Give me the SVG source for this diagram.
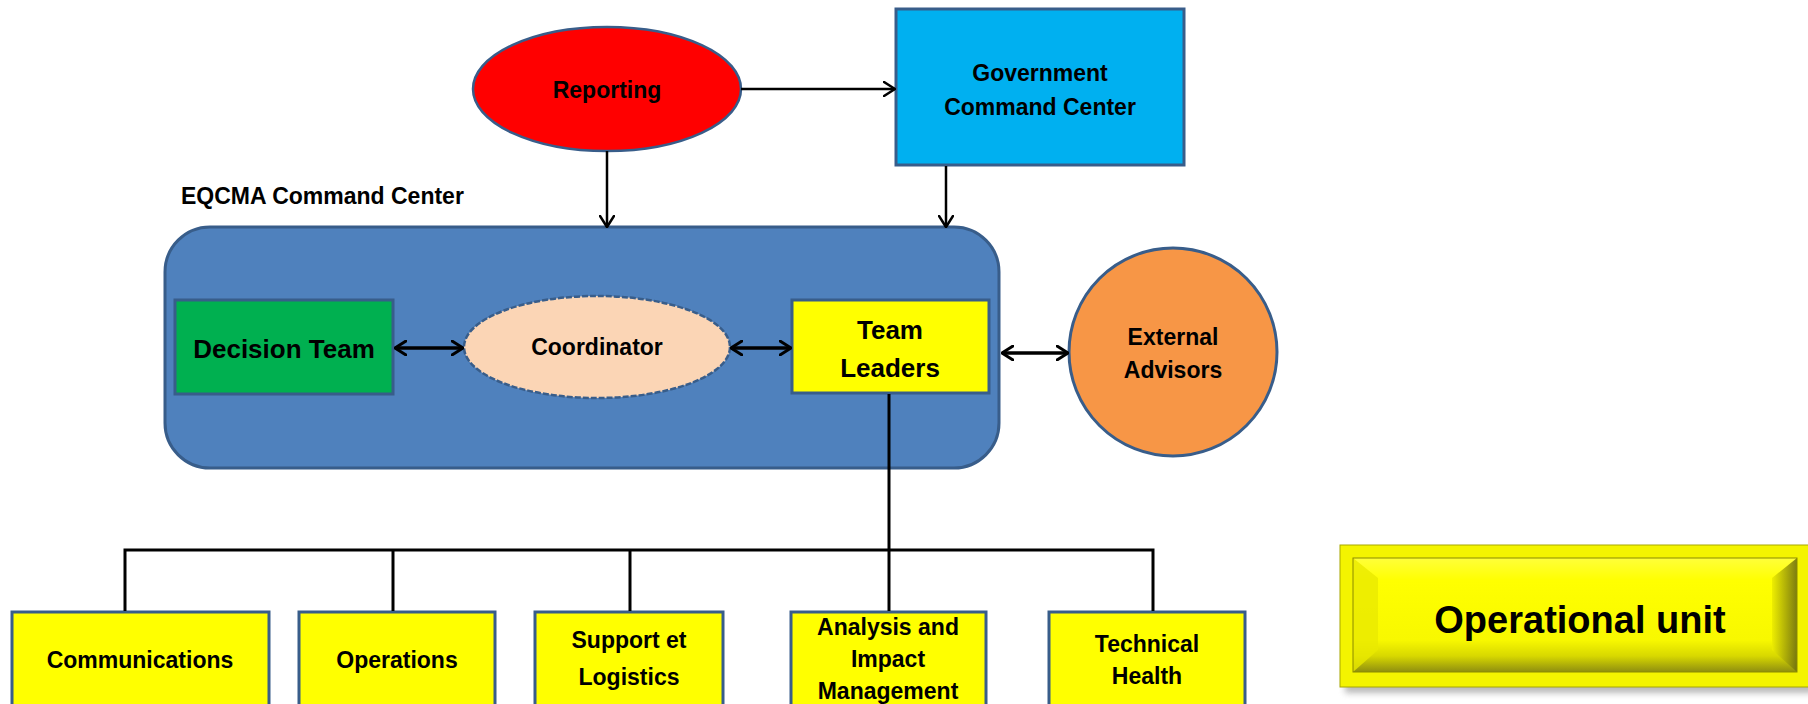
<svg xmlns="http://www.w3.org/2000/svg" width="1808" height="704" viewBox="0 0 1808 704">
  <style>
    text { font-family: "Liberation Sans", Arial, sans-serif; font-weight: bold; fill: #000; text-anchor: middle; }
    .t23 { font-size: 23px; }
    .t26 { font-size: 26px; }
    .shape { stroke: #385D8A; stroke-width: 3; }
    .line { stroke: #000; stroke-width: 3; fill: none; }
    .arrow { stroke: #000; stroke-width: 2.5; fill: none; marker-end: url(#chev); }
    .darrow { stroke: #000; stroke-width: 3.5; fill: none; marker-start: url(#chevS); marker-end: url(#chevS); }
  </style>
  <defs>
    <marker id="chev" viewBox="0 0 13 16" refX="12" refY="8" markerWidth="13" markerHeight="16" markerUnits="userSpaceOnUse" orient="auto-start-reverse">
      <path d="M1,1 L12,8 L1,15" fill="none" stroke="#000" stroke-width="2.5" stroke-linecap="round" stroke-linejoin="round"/>
    </marker>
    <marker id="chevS" viewBox="0 0 13 16" refX="12" refY="8" markerWidth="13" markerHeight="16" markerUnits="userSpaceOnUse" orient="auto-start-reverse">
      <path d="M1,1 L12,8 L1,15" fill="none" stroke="#000" stroke-width="3" stroke-linecap="round" stroke-linejoin="round"/>
    </marker>
    <linearGradient id="bevelFace" x1="0" y1="0" x2="0" y2="1">
      <stop offset="0" stop-color="#FFFF3A"/>
      <stop offset="0.2" stop-color="#FFFF00"/>
      <stop offset="0.72" stop-color="#F8F800"/>
      <stop offset="0.86" stop-color="#D8D800"/>
      <stop offset="1" stop-color="#8E8E10"/>
    </linearGradient>
    <linearGradient id="bevelRight" x1="0" y1="0" x2="1" y2="0">
      <stop offset="0" stop-color="#EDED00"/>
      <stop offset="1" stop-color="#6E6E10"/>
    </linearGradient>
    <filter id="shadow" x="-5%" y="-10%" width="115%" height="130%">
      <feGaussianBlur stdDeviation="3"/>
    </filter>
  </defs>

  <!-- container label -->
  <text id="label-eqcma" class="t23" x="181" y="204" style="text-anchor:start">EQCMA Command Center</text>

  <!-- EQCMA container -->
  <g id="eqcma-center">
    <rect x="165" y="227" width="834" height="241" rx="45" ry="45" fill="#4F81BD" class="shape"/>
  </g>

  <g id="reporting">
    <ellipse cx="607" cy="89" rx="134" ry="62" fill="#FF0000" stroke="#385D8A" stroke-width="2.5"/>
    <text class="t23" x="607" y="98">Reporting</text>
  </g>

  <g id="government">
    <rect x="896" y="9" width="288" height="156" fill="#00B0F0" class="shape"/>
    <text class="t23" x="1040" y="81">Government</text>
    <text class="t23" x="1040" y="115">Command Center</text>
  </g>

  <g id="decision-team">
    <rect x="175" y="300" width="218" height="94" fill="#00B050" class="shape"/>
    <text class="t26" x="284" y="358">Decision Team</text>
  </g>

  <g id="coordinator">
    <ellipse cx="597" cy="347" rx="133" ry="51" fill="#FBD5B5" stroke="#385D8A" stroke-width="2.5" stroke-dasharray="6 2"/>
    <text class="t23" x="597" y="355">Coordinator</text>
  </g>

  <g id="team-leaders">
    <rect x="792" y="300" width="197" height="93" fill="#FFFF00" class="shape"/>
    <text class="t26" x="890" y="339">Team</text>
    <text class="t26" x="890" y="377">Leaders</text>
  </g>

  <g id="external-advisors">
    <circle cx="1173" cy="352" r="104" fill="#F79646" class="shape"/>
    <text class="t23" x="1173" y="345">External</text>
    <text class="t23" x="1173" y="378">Advisors</text>
  </g>

  <!-- operational units -->
  <g id="communications">
    <rect x="12" y="612" width="257" height="110" fill="#FFFF00" class="shape"/>
    <text class="t23" x="140" y="668">Communications</text>
  </g>
  <g id="operations">
    <rect x="299" y="612" width="196" height="110" fill="#FFFF00" class="shape"/>
    <text class="t23" x="397" y="668">Operations</text>
  </g>
  <g id="support-logistics">
    <rect x="535" y="612" width="188" height="110" fill="#FFFF00" class="shape"/>
    <text class="t23" x="629" y="648">Support et</text>
    <text class="t23" x="629" y="685">Logistics</text>
  </g>
  <g id="analysis-impact">
    <rect x="791" y="612" width="195" height="110" fill="#FFFF00" class="shape"/>
    <text class="t23" x="888" y="635">Analysis and</text>
    <text class="t23" x="888" y="667">Impact</text>
    <text class="t23" x="888" y="699">Management</text>
  </g>
  <g id="technical-health">
    <rect x="1049" y="612" width="196" height="110" fill="#FFFF00" class="shape"/>
    <text class="t23" x="1147" y="652">Technical</text>
    <text class="t23" x="1147" y="684">Health</text>
  </g>

  <!-- legend button -->
  <g id="operational-unit-legend">
    <rect x="1345" y="551" width="470" height="142" fill="#808080" opacity="0.55" filter="url(#shadow)"/>
    <rect x="1340" y="545" width="470" height="142" fill="#F4F400" stroke="#A8A800" stroke-width="1"/>
    <rect x="1353" y="558" width="444" height="114" fill="url(#bevelFace)"/>
    <polygon points="1353,558 1378,578 1378,650 1353,672" fill="#EAEA00" opacity="0.8"/>
    <polygon points="1797,558 1772,578 1772,650 1797,672" fill="url(#bevelRight)" opacity="0.9"/>
    <rect x="1353" y="558" width="444" height="114" fill="none" stroke="#8A8A00" stroke-width="1"/>
    <text x="1580" y="633" style="font-size:38px">Operational unit</text>
  </g>

  <!-- connectors -->
  <g id="connectors">
    <line class="arrow" x1="741" y1="89" x2="895" y2="89"/>
    <line class="arrow" x1="607" y1="151" x2="607" y2="227"/>
    <line class="arrow" x1="946" y1="166" x2="946" y2="227"/>
    <line class="darrow" x1="395" y1="348" x2="463" y2="348"/>
    <line class="darrow" x1="731" y1="348" x2="791" y2="348"/>
    <line class="darrow" x1="1002" y1="353" x2="1068" y2="353"/>
    <line class="line" x1="889" y1="394" x2="889" y2="611"/>
    <polyline class="line" points="125,611 125,550 1153,550 1153,611"/>
    <line class="line" x1="393" y1="550" x2="393" y2="611"/>
    <line class="line" x1="630" y1="550" x2="630" y2="611"/>
  </g>
</svg>
